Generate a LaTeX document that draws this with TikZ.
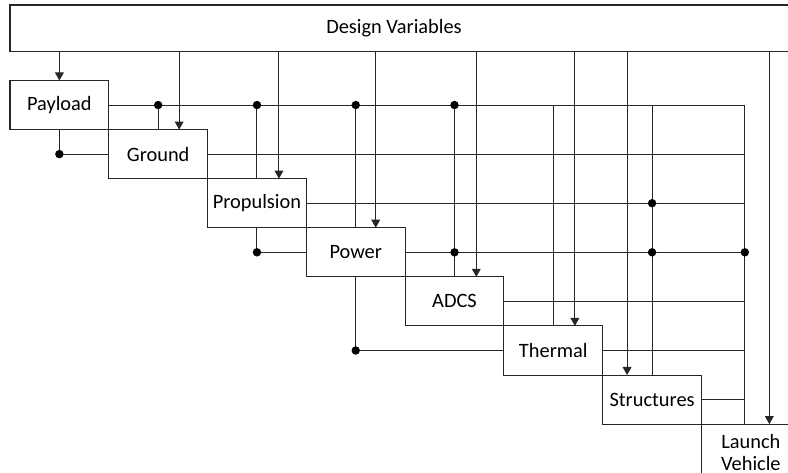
\documentclass[tikz,border=0pt]{standalone}
\usepackage{fontspec}
\setmainfont{Carlito}
\usetikzlibrary{arrows.meta, positioning, calc}

\begin{document}
\begin{tikzpicture}[
    x=0.02cm, y=-0.02cm, % one unit is one pixel of the layout, y runs down
    >={Triangle[width=5pt, length=4.6pt]}, % small filled arrow heads
    line width=0.6pt, draw=black!85,
    blk/.style={draw, rectangle, minimum width=1.976cm, minimum height=0.982cm,
        inner sep=0pt, outer sep=0pt, anchor=north west, align=center,
        font=\fontsize{11.6}{12.6}\selectfont},
    dot/.style={fill=black, circle, minimum size=4.8pt, inner sep=0pt} % junctions
]
\useasboundingbox (0,0) rectangle (788,473);
\clip (0,0) rectangle (788,473);

% Design variables bar
\node[draw, minimum width=15.8cm, minimum height=0.934cm, inner sep=0pt, outer sep=0pt,
    anchor=north west] (dv) at (10,5) {};
\node[font=\fontsize{11.6}{12.6}\selectfont] (dvtext) at (394,28) {Design Variables};

% Subsystem blocks, stepping down to the right
\node[blk] (pay) at (10,80.5) {Payload};
\node[blk] (gnd) at (pay.south east) {Ground};
\node[blk] (pro) at (gnd.south east) {Propulsion};
\node[blk] (pow) at (pro.south east) {Power};
\node[blk] (adc) at (pow.south east) {ADCS};
\node[blk] (the) at (adc.south east) {Thermal};
\node[blk] (str) at (the.south east) {Structures};
\node[blk, minimum height=1.12cm] (lv) at (str.south east) {Launch\\Vehicle};

% Collecting line into the launch vehicle
\coordinate (bus) at ($(lv.north)+(-6,0)$);

% Design variables into each block
\foreach \b/\dx in {pay/0, gnd/21, pro/22, pow/20, adc/21.8, the/21.6, str/-25, lv/18.5} {
    \coordinate (t) at ($(\b.north)+(\dx,0)$);
    \draw[->] (t |- dv.south) -- (t);
}

% Outputs running right to the collecting line
\foreach \b in {pay, gnd, pro, pow, adc, the, str}
    \draw (\b.east) -- (\b.east -| bus);
\draw (pay.east -| bus) -- (bus);

% Payload feeds the blocks below
\foreach \b in {gnd, pro, pow, adc}
    \draw (pay.east -| \b.north) node[dot] {} -- (\b.north);
\foreach \b in {the, str}
    \draw (pay.east -| \b.north) -- (\b.north);

% Junctions on the propulsion and power lines
\node[dot] (j1) at (pro.east -| str.north) {};
\node[dot] (j2) at (pow.east -| adc.north) {};
\node[dot] (j3) at (pow.east -| str.north) {};
\node[dot] (j4) at (pow.east -| bus) {};

% Feedback from left sides to blocks above
\draw (gnd.west) -- (gnd.west -| pay.south) node[dot] {} -- (pay.south);
\draw (pow.west) -- (pow.west -| pro.south) node[dot] {} -- (pro.south);
\draw (the.west) -- (the.west -| pow.south) node[dot] {} -- (pow.south);

\end{tikzpicture}
\end{document}
